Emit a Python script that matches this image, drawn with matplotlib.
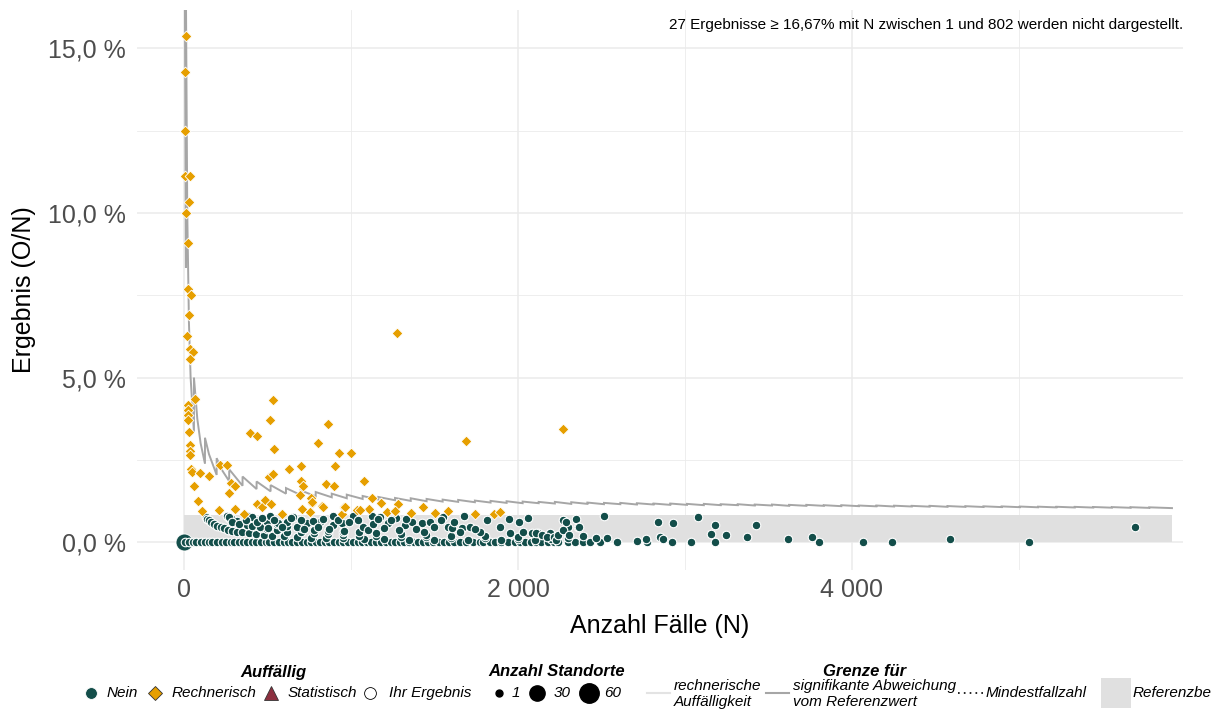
import numpy as np
import matplotlib
matplotlib.use("Agg")
import matplotlib.pyplot as plt
from matplotlib.lines import Line2D
from matplotlib.patches import Rectangle

plt.rcParams['font.family'] = ['Liberation Sans', 'DejaVu Sans']

# ---- data ----
# Grenze: signifikante Abweichung vom Referenzwert (vertices of the step-like line)
limit_n = [6, 12, 12, 20, 30, 40, 60, 60, 80, 100, 126, 126, 150, 196, 196, 230,
           271, 271, 351, 351, 435, 435, 519, 519, 611, 611, 699, 699, 789, 789,
           885, 885, 975, 975, 1070, 1070, 1164, 1164, 1264, 1264, 1358, 1358,
           1453, 1453, 1549, 1549, 1642, 1642, 1742, 1742, 1836, 1836, 1932, 1932,
           2028, 2028, 2124, 2124, 2221, 2221, 2319, 2319, 2416, 2416, 2515, 2515,
           2613, 2613, 2712, 2712, 2812, 2812, 2912, 2912, 3012, 3012, 3113, 3113,
           3214, 3214, 3316, 3316, 3418, 3418, 3521, 3521, 3624, 3624, 3727, 3727,
           3831, 3831, 3936, 3936, 4041, 4041, 4146, 4146, 4252, 4252, 4358, 4358,
           4465, 4465, 4572, 4572, 4679, 4679, 4787, 4787, 4896, 4896, 5005, 5005,
           5114, 5114, 5224, 5224, 5334, 5334, 5445, 5445, 5556, 5556, 5668, 5668,
           5780, 5780, 5916]
limit_pct = [16.67, 8.33, 16.67, 10.0, 6.67, 5.0, 3.33, 5.0, 3.75, 3.0, 2.38, 3.17, 2.67, 2.04, 2.55, 2.17,
             1.85, 2.21, 1.71, 1.99, 1.61, 1.84, 1.54, 1.73, 1.47, 1.64, 1.43, 1.57, 1.39, 1.52,
             1.36, 1.47, 1.33, 1.44, 1.31, 1.40, 1.29, 1.37, 1.27, 1.34, 1.25, 1.33,
             1.24, 1.31, 1.23, 1.29, 1.22, 1.28, 1.21, 1.26, 1.20, 1.25, 1.19, 1.24,
             1.18, 1.23, 1.18, 1.22, 1.17, 1.22, 1.16, 1.21, 1.16, 1.20, 1.15, 1.19,
             1.15, 1.19, 1.14, 1.18, 1.14, 1.17, 1.13, 1.17, 1.13, 1.16, 1.12, 1.16,
             1.12, 1.15, 1.12, 1.15, 1.11, 1.14, 1.11, 1.14, 1.10, 1.13, 1.10, 1.13,
             1.10, 1.12, 1.09, 1.12, 1.09, 1.11, 1.085, 1.11, 1.08, 1.105, 1.08, 1.10,
             1.075, 1.10, 1.07, 1.094, 1.069, 1.09, 1.065, 1.086, 1.062, 1.083, 1.059, 1.079,
             1.056, 1.075, 1.053, 1.072, 1.050, 1.069, 1.047, 1.065, 1.044, 1.062, 1.041, 1.059,
             1.038, 1.055, 1.031]

# Referenzbereich
ref_n = [1, 5916]
ref_upper = 0.82

# Auffaellig: Nein, Ergebnis = 0 %
nein_zero_n = [8, 30, 55, 75, 100, 125, 150, 170, 200, 225, 250, 280, 300, 330, 355, 380,
               410, 430, 460, 490, 510, 540, 570, 600, 625, 650, 680, 705, 735, 760, 790,
               815, 845, 870, 900, 930, 955, 985, 1010, 1040, 1065, 1095, 1120, 1150, 1180,
               1210, 1240, 1265, 1295, 1320, 1350, 1380, 1400, 1430, 1460, 1490, 1530, 1560,
               1590, 1620, 1650, 1690, 1730, 1770, 1790, 1830, 1865, 1900, 1940, 1985, 2010,
               2045, 2080, 2110, 2140, 2180, 2215, 2240, 2300, 2340, 2390, 2430, 2490, 2591,
               2775, 2921, 3035, 3180, 3803, 4064, 4237, 5057]

# Auffaellig: Nein, Ergebnis > 0 %
nein_n = [130, 140, 150, 165, 180, 200, 220, 240, 265, 290, 320, 350, 390, 430, 480, 530,
          600, 680, 760, 850, 950, 1080, 1200, 1350, 1500, 1700, 1900, 2100,
          255, 270, 290, 320, 350, 380, 420, 460, 500, 560, 620, 700, 780, 860, 950, 1050,
          1150, 1300, 1450, 1600, 1800, 2000, 2200,
          385, 420, 460, 500, 560, 620, 700, 780, 860, 950, 1050, 1150, 1300, 1450, 1600,
          1800, 2000, 2300,
          269, 405, 515, 655, 890, 1124, 1174, 1268, 1553, 1679, 1946, 2006, 2058, 2271,
          2345, 2516,
          409, 455, 505, 565, 615, 675, 735, 814, 894, 944, 1014, 1074, 1223, 1323, 1363,
          1423, 1473, 1583, 1603, 1663, 1713, 1772, 1892, 2032, 2122, 2192, 2301, 2361, 2391,
          1816, 2285, 2363, 1742, 1952, 2086, 2106, 2142, 2176, 2216, 2228, 2240, 2270,
          2308, 2465,
          2534, 2715, 2764, 2836, 2853, 2868, 2928, 3081, 3156, 3180, 3248, 3372, 3426,
          3617, 3763, 4587, 5693,
          770, 800, 830, 870, 920, 960, 990, 1040, 1100, 1130, 1160, 1200, 1240, 1290,
          1330, 1390, 1440, 1500, 1540, 1620, 1650,
          290, 330, 370, 440, 470, 540, 590, 640, 700, 720]
nein_pct = [0.77, 0.71, 0.67, 0.61, 0.56, 0.50, 0.45, 0.42, 0.38, 0.34, 0.31, 0.29, 0.26, 0.23, 0.21, 0.19,
            0.17, 0.15, 0.13, 0.12, 0.11, 0.09, 0.08, 0.07, 0.07, 0.06, 0.05, 0.05,
            0.78, 0.74, 0.69, 0.63, 0.57, 0.53, 0.48, 0.43, 0.40, 0.36, 0.32, 0.29, 0.26, 0.23, 0.21, 0.19,
            0.17, 0.15, 0.14, 0.13, 0.11, 0.10, 0.09,
            0.78, 0.71, 0.65, 0.60, 0.54, 0.48, 0.43, 0.38, 0.35, 0.32, 0.29, 0.26, 0.23, 0.21, 0.19,
            0.17, 0.15, 0.13,
            0.75, 0.75, 0.79, 0.77, 0.79, 0.79, 0.77, 0.72, 0.75, 0.80, 0.69, 0.60, 0.74, 0.67,
            0.69, 0.79,
            0.50, 0.47, 0.42, 0.57, 0.62, 0.47, 0.57, 0.62, 0.52, 0.57, 0.79, 0.47, 0.57, 0.52, 0.62,
            0.57, 0.62, 0.47, 0.42, 0.42, 0.47, 0.31, 0.47, 0.31, 0.26, 0.26, 0.47, 0.47, 0.18,
            0.66, 0.60, 0.47, 0.40, 0.26, 0.28, 0.26, 0.21, 0.16, 0.16, 0.06, 0.21, 0.36,
            0.21, 0.11,
            0.13, 0.04, 0.08, 0.60, 0.16, 0.08, 0.59, 0.75, 0.25, 0.51, 0.22, 0.15, 0.53,
            0.09, 0.16, 0.09, 0.46,
            0.65, 0.45, 0.70, 0.40, 0.66, 0.35, 0.60, 0.68, 0.38, 0.55, 0.70, 0.42, 0.66, 0.36,
            0.70, 0.40, 0.30, 0.45, 0.68, 0.60, 0.30,
            0.60, 0.55, 0.66, 0.62, 0.72, 0.66, 0.45, 0.72, 0.66, 0.40]

# Standort mit vielen Faellen bei N ~ 0 (groesserer Punkt)
big_n = [3]
big_pct = [0.0]

# Auffaellig: Rechnerisch
rech_n = [13, 7, 8, 9, 36, 29, 10, 22, 26, 40, 29, 16, 34, 52, 36, 69, 24, 25, 26, 27, 30,
          34, 36, 38, 45, 47, 98, 152, 60, 84, 110, 210, 216, 259, 393, 439, 531, 517, 537,
          509, 535, 279, 305, 271, 800, 864, 926, 1002, 906, 852, 900, 631, 699, 699, 715,
          695, 759, 767, 1076, 1124, 1178, 1274, 1686, 2267, 303, 359, 435, 465, 485, 519,
          587, 704, 754, 765, 826, 948, 960, 1038, 1110, 1214, 1265, 1283, 1359, 1429, 1503,
          1579, 1742, 1855, 1892, 1054, 964, 830, 1263]
rech_pct = [15.38, 14.29, 12.5, 11.11, 11.11, 10.34, 10.0, 9.09, 7.69, 7.5, 6.9, 6.25, 5.88, 5.77,
            5.56, 4.35, 4.17, 4.0, 3.85, 3.7, 3.33, 2.94, 2.78, 2.63, 2.22, 2.13, 2.09, 2.0, 1.7,
            1.25, 0.93, 0.97, 2.34, 2.34, 3.31, 3.21, 4.33, 3.7, 2.82, 1.97, 2.07, 1.8, 1.69, 1.49,
            3.01, 3.59, 2.71, 2.71, 2.32, 1.76, 1.69, 2.23, 2.31, 1.87, 1.69, 1.44, 1.33, 1.19,
            1.86, 1.33, 1.19, 6.35, 3.08, 3.43, 1.0, 0.84, 1.17, 1.06, 1.28, 1.17, 0.84, 1.0, 0.9,
            1.22, 1.11, 0.84, 1.06, 0.97, 1.0, 0.9, 0.95, 1.17, 0.87, 1.06, 0.87, 0.93, 0.86,
            0.86, 0.9, 0.97, 1.05, 1.07, 0.95]

x_ticks = [0, 2000, 4000]
x_labels = ["0", "2 000", "4 000"]
y_ticks = [0, 5, 10, 15]
y_labels = ["0,0 %", "5,0 %", "10,0 %", "15,0 %"]

note = "27 Ergebnisse \u2265 16,67% mit N zwischen 1 und 802 werden nicht dargestellt."

# ---- colours ----
GREEN = "#134e4a"
ORANGE = "#e69f00"
MAROON = "#8c2f3f"
LIMIT = "#a6a6a6"
LIGHT = "#e3e3e3"
BAND = "#e0e0e0"
GRID = "#ebebeb"

W, H = 1211, 713
fig = plt.figure(figsize=(W / 100, H / 100), dpi=100)
ax = fig.add_axes([137 / W, 1 - 570 / H, (1183 - 137) / W, 560 / H])

ax.set_xlim(-281, 5982)
ax.set_ylim(-0.85, 16.17)
for s in ax.spines.values():
    s.set_visible(False)

ax.set_xticks(x_ticks)
ax.set_xticklabels(x_labels)
ax.set_xticks([1000, 3000, 5000], minor=True)
ax.set_yticks(y_ticks)
ax.set_yticklabels(y_labels)
ax.set_yticks([2.5, 7.5, 12.5], minor=True)
ax.tick_params(which="both", length=0)
ax.tick_params(axis="x", pad=6, labelsize=18, labelcolor="#4d4d4d")
ax.tick_params(axis="y", pad=8, labelsize=18, labelcolor="#4d4d4d")
ax.grid(which="major", color=GRID, lw=1.1)
ax.grid(which="minor", color=GRID, lw=0.6)
ax.set_axisbelow(True)

ax.set_xlabel("Anzahl F\u00e4lle (N)", fontsize=18)
ax.set_ylabel("Ergebnis (O/N)", fontsize=18)
ax.xaxis.set_label_coords(0.5, -0.079)
ax.yaxis.set_label_coords(-0.097, 0.5)

# reference band
ax.fill_between(ref_n, 0, ref_upper, color=BAND, lw=0, zorder=1)

# significance limit
ax.plot(limit_n, limit_pct, color=LIMIT, lw=1.4, zorder=2, solid_joinstyle="miter")

# points
ax.scatter(big_n, big_pct, s=150, color=GREEN, edgecolors="white", linewidths=0.6, zorder=3)
ax.scatter(nein_zero_n, np.zeros(len(nein_zero_n)), s=38, color=GREEN,
           edgecolors="white", linewidths=0.8, zorder=4)
ax.scatter(nein_n, nein_pct, s=38, color=GREEN, edgecolors="white", linewidths=0.8, zorder=4)
ax.scatter(rech_n, rech_pct, s=30, marker="D", color=ORANGE, edgecolors="white",
           linewidths=0.6, zorder=5)

ax.text(1.0, 0.973, note, transform=ax.transAxes, ha="right", va="center", fontsize=11)


# ---- legend drawn at the bottom (pixel positions) ----
def fx(x):
    return x / W


def fy(y):
    return 1 - y / H


def mark(x, y, **kw):
    fig.add_artist(Line2D([fx(x)], [fy(y)], transform=fig.transFigure, ls="none", **kw))


def label(x, y, txt, **kw):
    fig.text(fx(x), fy(y), txt, fontsize=11, style="italic", va="center", **kw)


row = 693
title_y = 672
fig.text(fx(273), fy(title_y), "Auff\u00e4llig", fontsize=12, weight="bold", style="italic",
         ha="center", va="center")
mark(91, row, marker="o", ms=8.5, mfc=GREEN, mec="white", mew=0.6)
label(107, row, "Nein")
mark(155, row, marker="D", ms=7, mfc=ORANGE, mec="#333333", mew=0.6)
label(172, row, "Rechnerisch")
mark(271, row, marker="^", ms=10, mfc=MAROON, mec="#333333", mew=0.6)
label(288, row, "Statistisch")
mark(370, row, marker="o", ms=8.5, mfc="white", mec="black", mew=0.6)
label(389, row, "Ihr Ergebnis")

fig.text(fx(557), fy(title_y), "Anzahl Standorte", fontsize=12, weight="bold", style="italic",
         ha="center", va="center")
mark(499, row, marker="o", ms=5, mfc="black", mec="black")
label(512, row, "1")
mark(537, row, marker="o", ms=11, mfc="black", mec="black")
label(554, row, "30")
mark(589, row, marker="o", ms=14, mfc="black", mec="black")
label(604, row, "60")

fig.text(fx(865), fy(title_y), "Grenze f\u00fcr", fontsize=12, weight="bold", style="italic",
         ha="center", va="center")
fig.add_artist(Line2D([fx(647), fx(670)], [fy(row), fy(row)], transform=fig.transFigure,
                      color=LIGHT, lw=1.5))
label(674, row + 1, "rechnerische\nAuff\u00e4lligkeit", linespacing=1.1)
fig.add_artist(Line2D([fx(766), fx(789)], [fy(row), fy(row)], transform=fig.transFigure,
                      color=LIMIT, lw=1.5))
label(793, row + 1, "signifikante Abweichung\nvom Referenzwert", linespacing=1.1)
fig.add_artist(Line2D([fx(958), fx(984)], [fy(row), fy(row)], transform=fig.transFigure,
                      color="black", lw=1.2, ls=(0, (1, 2.5))))
label(986, row, "Mindestfallzahl")
fig.add_artist(Rectangle((fx(1101), fy(708)), fx(30), 30 / H, transform=fig.transFigure,
                         color=BAND, lw=0))
# the reference cuts this legend entry at the right image edge
label(1133, row, "Referenzbereich")

fig.savefig("out.png", dpi=100)
